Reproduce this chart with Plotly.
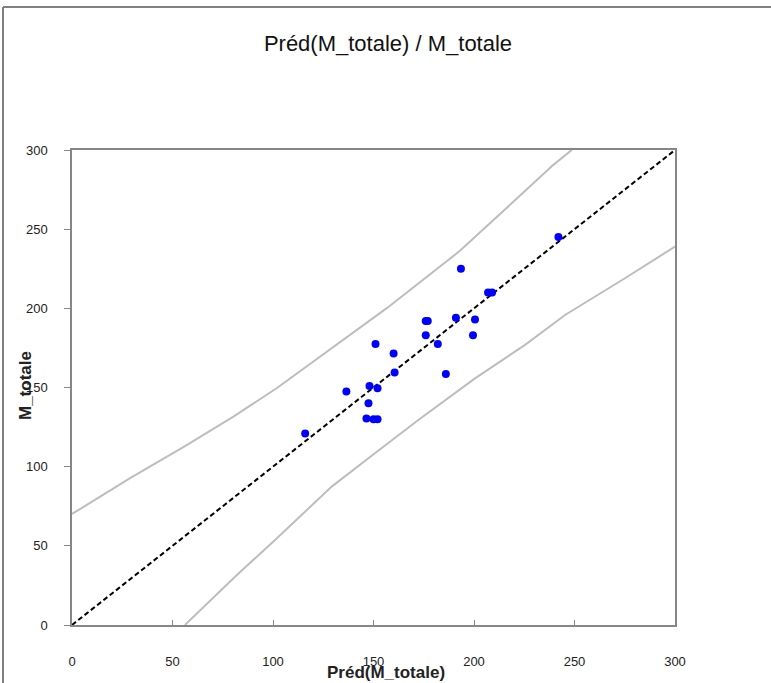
import plotly.graph_objects as go

# Observed points: predicted (x) vs observed (y)
pred = [242, 193.5, 207, 209, 176, 177, 191, 200.5, 176, 199.5, 182, 151, 160,
        160.5, 186, 148, 152, 136.5, 147.5, 146.5, 150, 152, 116]
obs = [245, 225, 210, 210, 192, 192, 194, 193, 183, 183, 177.5, 177.5, 171.5,
       159.5, 158.5, 151, 149.5, 147.5, 140, 130.5, 130, 130, 121]

# Upper and lower confidence bands
up_x = [0, 28.9, 55.4, 80.3, 101.8, 114.3, 123.4, 156.6, 193.0, 216.3, 239.5, 248.6]
up_y = [70.1, 92.7, 112.3, 131.6, 149.5, 161.1, 169.5, 200.1, 236.3, 263.2, 290.6, 300]
lo_x = [56.2, 81.1, 101.0, 129.2, 150.7, 172.3, 200.5, 225.4, 245.3, 275.1, 300]
lo_y = [0, 30.5, 53.7, 87.4, 108.5, 129.5, 155.8, 176.9, 195.8, 219.0, 239.0]

# Identity line
id_x = [0, 300]
id_y = [0, 300]

ticks = [0, 50, 100, 150, 200, 250, 300]

FONT = "Liberation Sans"

fig = go.Figure()
fig.add_trace(go.Scatter(x=up_x, y=up_y, mode="lines",
                         line=dict(color="#BDBDBD", width=2), hoverinfo="skip"))
fig.add_trace(go.Scatter(x=lo_x, y=lo_y, mode="lines",
                         line=dict(color="#BDBDBD", width=2), hoverinfo="skip"))
fig.add_trace(go.Scatter(x=id_x, y=id_y, mode="lines",
                         line=dict(color="black", width=2, dash="5px,3px")))
fig.add_trace(go.Scatter(x=pred, y=obs, mode="markers",
                         marker=dict(color="#0000FF", size=8)))

fig.update_layout(
    width=771, height=683,
    margin=dict(l=72, r=96, t=150, b=58),
    paper_bgcolor="white", plot_bgcolor="white",
    showlegend=False,
    font=dict(family=FONT, size=13, color="#222222"),
    title=dict(text="Préd(M_totale) / M_totale", x=(388 / 771), xanchor="center",
               xref="container", y=1 - 43 / 683, yanchor="middle",
               font=dict(family=FONT, size=22, color="#111111")),
)
fig.update_xaxes(range=[0, 300], tickvals=ticks, ticktext=[str(t) for t in ticks],
                 showgrid=False, zeroline=False, showline=True, linecolor="#868686",
                 linewidth=1.5, mirror=True, ticks="inside", ticklen=5, tickcolor="#868686",
                 ticklabelstandoff=24)
fig.update_yaxes(range=[0, 300], tickvals=ticks, ticktext=[str(t) for t in ticks],
                 showgrid=False, zeroline=False, showline=True, linecolor="#868686",
                 linewidth=1.5, mirror=True, ticks="outside", ticklen=6, tickcolor="#868686",
                 ticklabelstandoff=14)

# Axis titles
fig.add_annotation(text="<b>Préd(M_totale)</b>", xref="paper", yref="paper",
                   x=(386 - 72) / 603, y=(625 - 672) / 475, showarrow=False,
                   xanchor="center", yanchor="middle",
                   font=dict(family=FONT, size=17, color="#222222"))
fig.add_annotation(text="<b>M_totale</b>", xref="paper", yref="paper",
                   x=(25 - 72) / 603, y=(625 - 385) / 475, showarrow=False,
                   textangle=-90, xanchor="center", yanchor="middle",
                   font=dict(family=FONT, size=17, color="#222222"))

# Outer chart frame (left and top edges visible)
fig.add_shape(type="line", xref="paper", yref="paper",
              x0=(3 - 72) / 603, x1=(3 - 72) / 603, y0=(625 - 700) / 475, y1=(625 - 7) / 475,
              line=dict(color="#808080", width=2))
fig.add_shape(type="line", xref="paper", yref="paper",
              x0=(3 - 72) / 603, x1=(800 - 72) / 603, y0=(625 - 7) / 475, y1=(625 - 7) / 475,
              line=dict(color="#808080", width=2))

fig.write_html("out.html", config={"displayModeBar": False},
               post_script="document.body.style.margin='0';document.body.style.overflow='hidden';")
